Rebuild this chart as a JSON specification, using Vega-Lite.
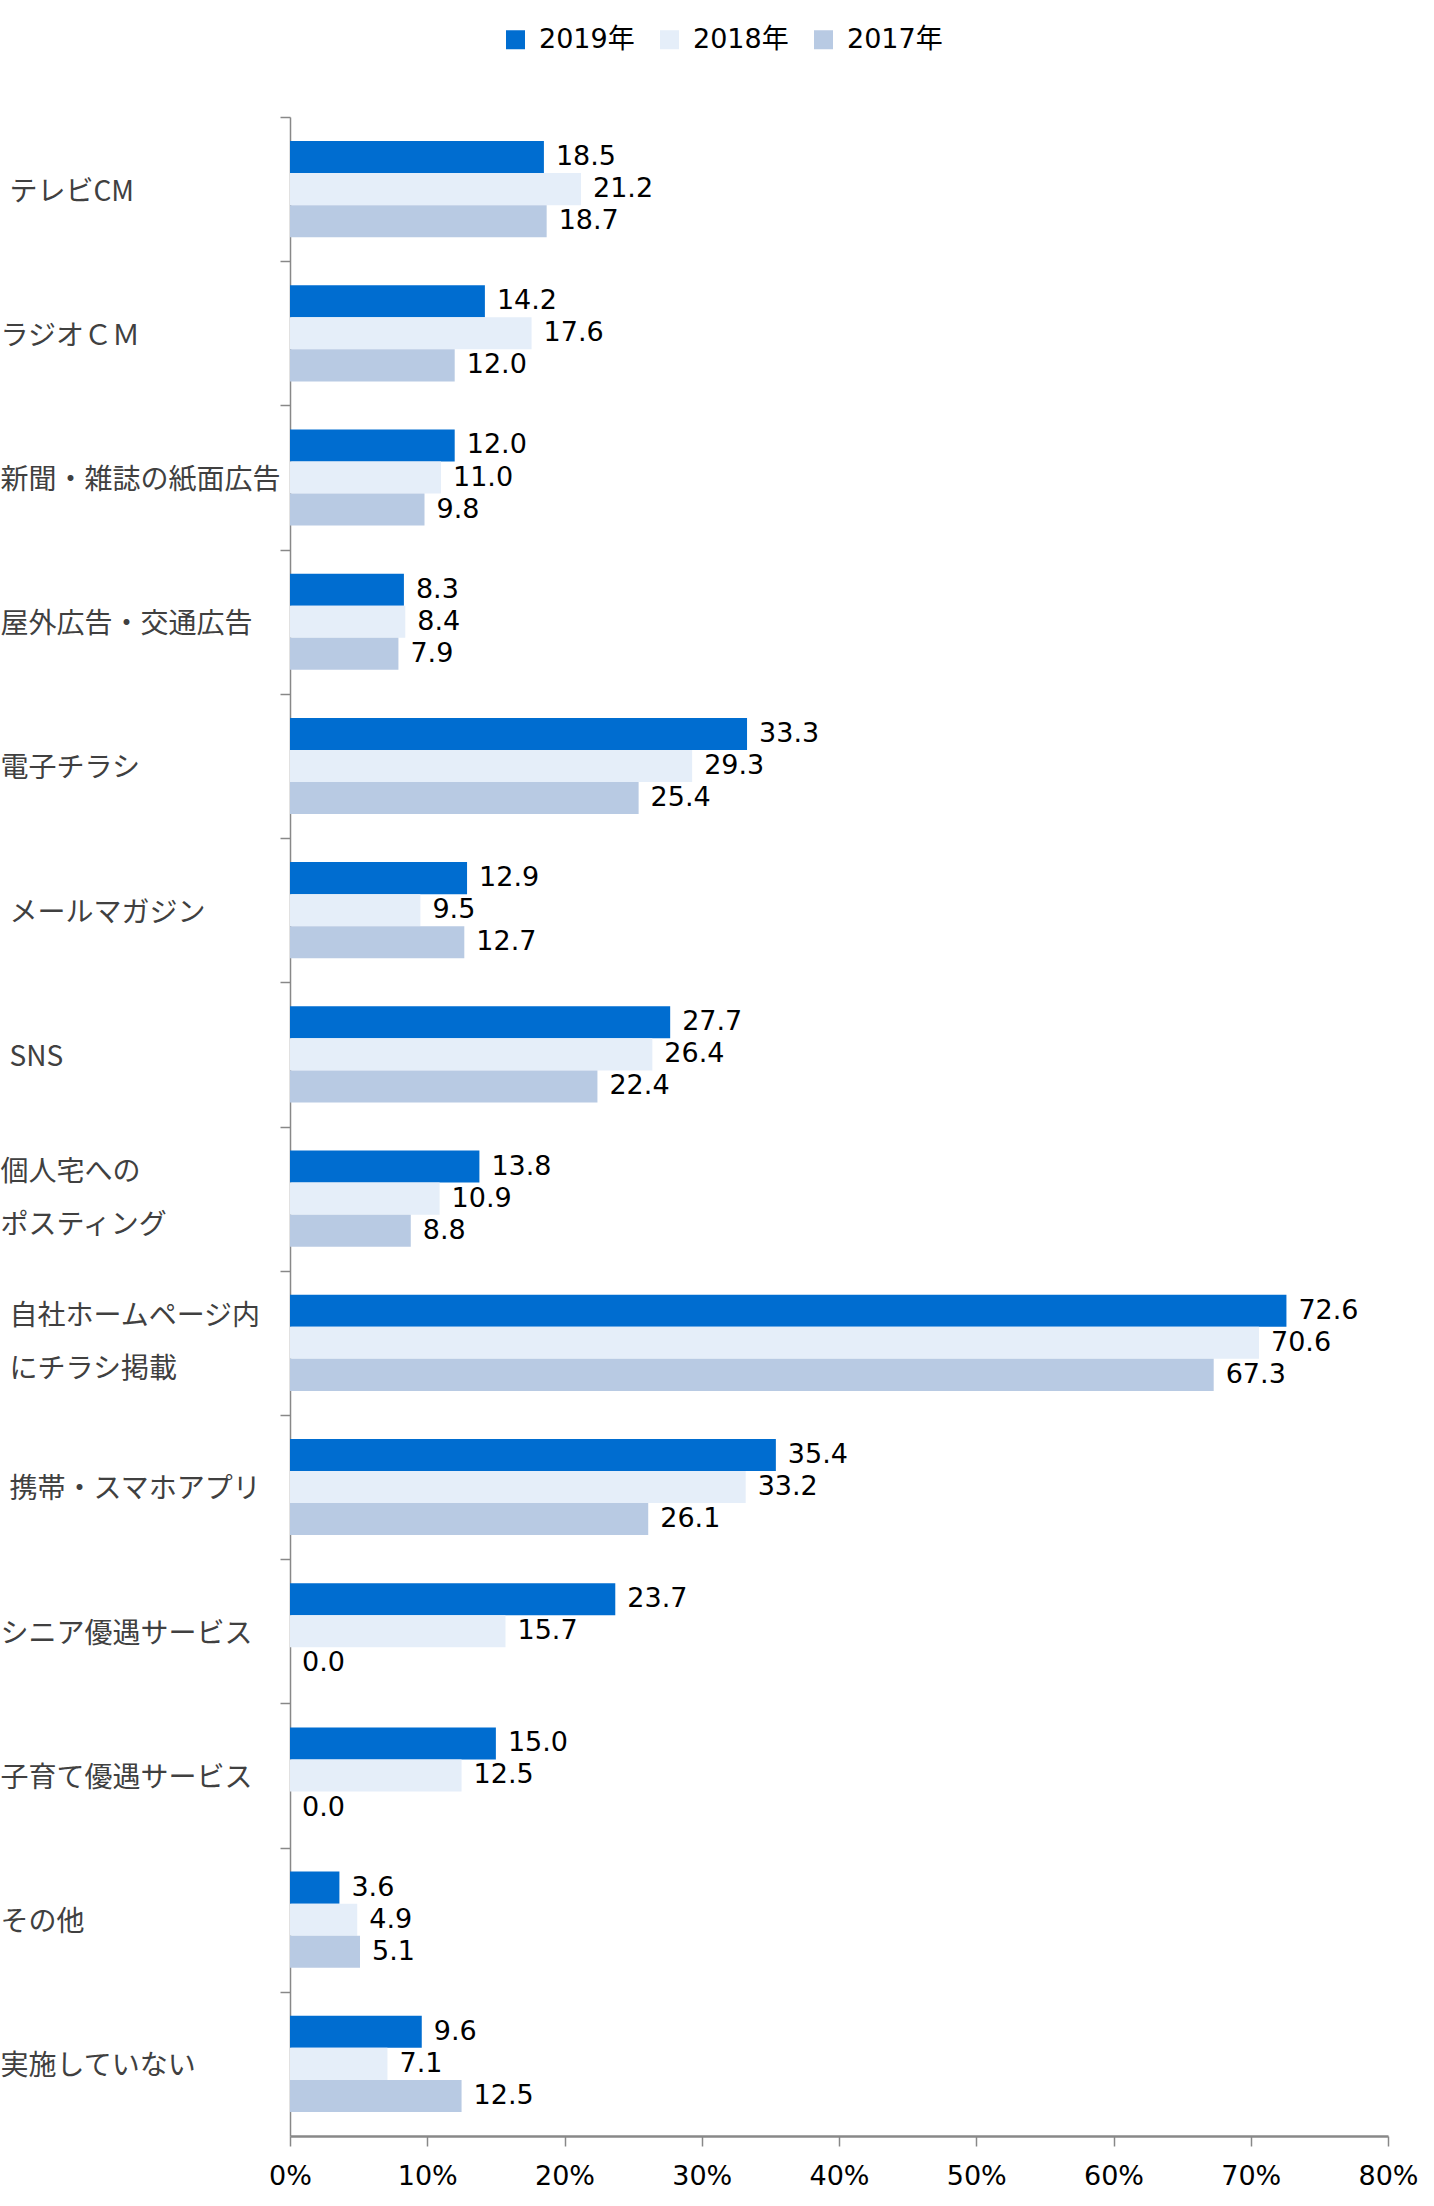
{
  "$schema": "https://vega.github.io/schema/vega-lite/v6.json",
  "width": 1098,
  "height": 2019,
  "autosize": {"type": "none"},
  "padding": {"left": 290, "top": 117, "right": 46, "bottom": 70},
  "background": "white",
  "config": {"view": {"stroke": null}, "font": "DejaVu Sans, Noto Sans CJK JP"},
  "data": {
    "values": [
      {"item": "テレビCM", "year": "2019年", "value": 18.5},
      {"item": "テレビCM", "year": "2018年", "value": 21.2},
      {"item": "テレビCM", "year": "2017年", "value": 18.7},
      {"item": "ラジオＣＭ", "year": "2019年", "value": 14.2},
      {"item": "ラジオＣＭ", "year": "2018年", "value": 17.6},
      {"item": "ラジオＣＭ", "year": "2017年", "value": 12.0},
      {"item": "新聞・雑誌の紙面広告", "year": "2019年", "value": 12.0},
      {"item": "新聞・雑誌の紙面広告", "year": "2018年", "value": 11.0},
      {"item": "新聞・雑誌の紙面広告", "year": "2017年", "value": 9.8},
      {"item": "屋外広告・交通広告", "year": "2019年", "value": 8.3},
      {"item": "屋外広告・交通広告", "year": "2018年", "value": 8.4},
      {"item": "屋外広告・交通広告", "year": "2017年", "value": 7.9},
      {"item": "電子チラシ", "year": "2019年", "value": 33.3},
      {"item": "電子チラシ", "year": "2018年", "value": 29.3},
      {"item": "電子チラシ", "year": "2017年", "value": 25.4},
      {"item": "メールマガジン", "year": "2019年", "value": 12.9},
      {"item": "メールマガジン", "year": "2018年", "value": 9.5},
      {"item": "メールマガジン", "year": "2017年", "value": 12.7},
      {"item": "SNS", "year": "2019年", "value": 27.7},
      {"item": "SNS", "year": "2018年", "value": 26.4},
      {"item": "SNS", "year": "2017年", "value": 22.4},
      {"item": "個人宅への|ポスティング", "year": "2019年", "value": 13.8},
      {"item": "個人宅への|ポスティング", "year": "2018年", "value": 10.9},
      {"item": "個人宅への|ポスティング", "year": "2017年", "value": 8.8},
      {"item": "自社ホームページ内|にチラシ掲載", "year": "2019年", "value": 72.6},
      {"item": "自社ホームページ内|にチラシ掲載", "year": "2018年", "value": 70.6},
      {"item": "自社ホームページ内|にチラシ掲載", "year": "2017年", "value": 67.3},
      {"item": "携帯・スマホアプリ", "year": "2019年", "value": 35.4},
      {"item": "携帯・スマホアプリ", "year": "2018年", "value": 33.2},
      {"item": "携帯・スマホアプリ", "year": "2017年", "value": 26.1},
      {"item": "シニア優遇サービス", "year": "2019年", "value": 23.7},
      {"item": "シニア優遇サービス", "year": "2018年", "value": 15.7},
      {"item": "シニア優遇サービス", "year": "2017年", "value": 0.0},
      {"item": "子育て優遇サービス", "year": "2019年", "value": 15.0},
      {"item": "子育て優遇サービス", "year": "2018年", "value": 12.5},
      {"item": "子育て優遇サービス", "year": "2017年", "value": 0.0},
      {"item": "その他", "year": "2019年", "value": 3.6},
      {"item": "その他", "year": "2018年", "value": 4.9},
      {"item": "その他", "year": "2017年", "value": 5.1},
      {"item": "実施していない", "year": "2019年", "value": 9.6},
      {"item": "実施していない", "year": "2018年", "value": 7.1},
      {"item": "実施していない", "year": "2017年", "value": 12.5}
    ]
  },
  "encoding": {
    "y": {
      "field": "item",
      "type": "nominal",
      "sort": null,
      "scale": {"paddingInner": 0, "paddingOuter": 0},
      "axis": {
        "title": null,
        "domainColor": "#888888",
        "domainWidth": 1.5,
        "tickColor": "#888888",
        "tickSize": 10,
        "tickWidth": 1.5,
        "tickOffset": -72.1,
        "labelOffset": {"condition": {"test": "indexof(datum.value, '|') >= 0", "value": 46}, "value": 75},
        "labelAlign": "left",
        "labelBaseline": "middle",
        "labelPadding": {"condition": {"test": "indexof(['テレビCM', 'メールマガジン', 'SNS', '携帯・スマホアプリ', '自社ホームページ内|にチラシ掲載'], datum.value) >= 0", "value": 271}, "value": 280},
        "labelFont": "Noto Sans CJK JP",
        "labelFontSize": 28,
        "labelColor": "#404040",
        "labelLimit": 0,
        "labelLineHeight": 53,
        "labelExpr": "split(datum.value, '|')"
      }
    },
    "yOffset": {
      "field": "year",
      "type": "nominal",
      "sort": ["2019年", "2018年", "2017年"],
      "scale": {"paddingInner": 0, "paddingOuter": 0.75}
    },
    "x": {
      "field": "value",
      "type": "quantitative",
      "scale": {"domain": [0, 80], "nice": false},
      "axis": {
        "title": null,
        "values": [0, 10, 20, 30, 40, 50, 60, 70, 80],
        "labelExpr": "datum.value + '%'",
        "grid": false,
        "domainColor": "#888888",
        "domainWidth": 2.5,
        "tickColor": "#888888",
        "tickSize": 10,
        "tickWidth": 1.5,
        "labelFont": "DejaVu Sans",
        "labelFontSize": 27,
        "labelColor": "black",
        "labelPadding": 17,
        "labelFlush": false
      }
    }
  },
  "layer": [
    {
      "mark": {"type": "bar"},
      "encoding": {
        "color": {
          "field": "year",
          "type": "nominal",
          "scale": {"domain": ["2019年", "2018年", "2017年"], "range": ["#006DD0", "#E5EEF9", "#B8CAE3"]},
          "legend": {
            "title": null,
            "orient": "none",
            "legendX": 212,
            "legendY": -91,
            "direction": "horizontal",
            "symbolType": "square",
            "symbolSize": 361,
            "symbolStrokeWidth": 0,
            "labelFont": "DejaVu Sans, Noto Sans CJK JP",
            "labelFontSize": 27,
            "labelColor": "black",
            "labelOffset": 10,
            "columnPadding": 21,
            "padding": 0
          }
        }
      }
    },
    {
      "mark": {"type": "text", "align": "left", "baseline": "middle", "dx": 12, "fontSize": 27, "font": "DejaVu Sans", "color": "black"},
      "encoding": {
        "text": {"field": "value", "type": "quantitative", "format": ".1f"}
      }
    }
  ]
}
